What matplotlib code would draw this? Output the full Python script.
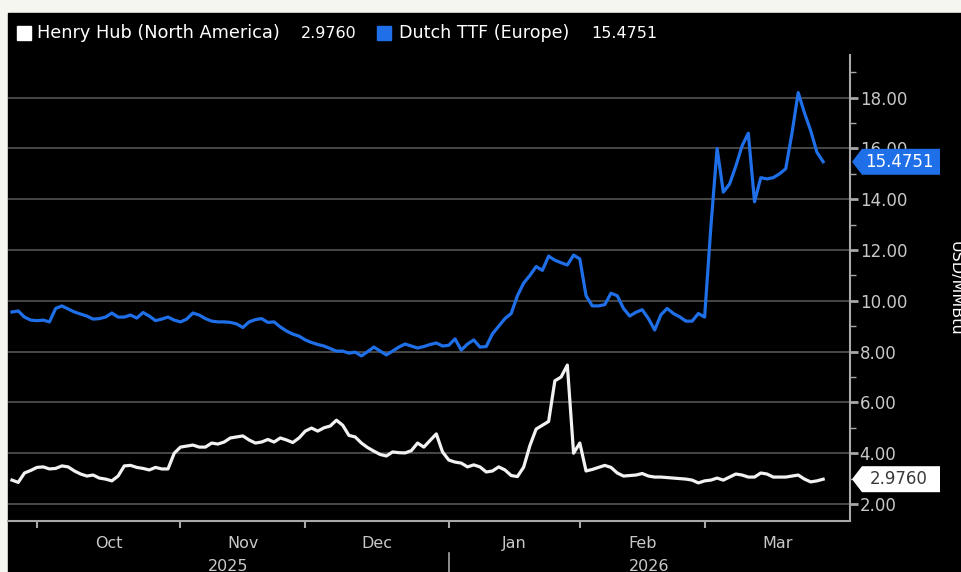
import numpy as np
import pandas as pd
import matplotlib
matplotlib.use("Agg")
import matplotlib.pyplot as plt
from matplotlib.patches import Rectangle, Polygon
import matplotlib.transforms as mtransforms

plt.rcParams['font.family'] = ['DejaVu Sans']

# ---------------- data ----------------
dates = pd.bdate_range('2025-09-25', '2026-03-27')
dates = dates[dates != pd.Timestamp('2026-01-01')]

ttf = [
    9.56, 9.60, 9.36, 9.24, 9.22, 9.24, 9.17, 9.70, 9.80, 9.68,
    9.56, 9.48, 9.40, 9.28, 9.30, 9.36, 9.52, 9.36, 9.36, 9.44,
    9.32, 9.54, 9.40, 9.22, 9.28, 9.36, 9.24, 9.17, 9.28, 9.52,
    9.44, 9.30, 9.20, 9.17, 9.17, 9.15, 9.09, 8.95, 9.17, 9.26,
    9.30, 9.15, 9.17, 8.97, 8.81, 8.69, 8.61, 8.46, 8.36, 8.28,
    8.22, 8.12, 8.02, 8.02, 7.94, 7.98, 7.83, 8.00, 8.18, 8.02,
    7.87, 8.02, 8.18, 8.30, 8.22, 8.14, 8.20, 8.28, 8.34, 8.22,
    8.25, 8.50, 8.06, 8.30, 8.46, 8.18, 8.20, 8.70, 9.00, 9.30,
    9.50, 10.20, 10.70, 11.00, 11.35, 11.20, 11.76, 11.60, 11.50, 11.41,
    11.80, 11.65, 10.20, 9.80, 9.80, 9.85, 10.30, 10.20, 9.70, 9.40,
    9.55, 9.65, 9.30, 8.85, 9.45, 9.70, 9.50, 9.37, 9.20, 9.20,
    9.50, 9.36, 12.90, 16.00, 14.28, 14.60, 15.30, 16.10, 16.60, 13.90,
    14.85, 14.80, 14.85, 15.00, 15.20, 16.60, 18.20, 17.40, 16.70, 15.85,
    15.4751,
]

henry_hub = [
    2.94, 2.85, 3.22, 3.32, 3.44, 3.46, 3.38, 3.40, 3.50, 3.46,
    3.30, 3.18, 3.10, 3.14, 3.02, 2.98, 2.91, 3.10, 3.50, 3.52,
    3.44, 3.40, 3.34, 3.44, 3.38, 3.38, 4.00, 4.24, 4.28, 4.32,
    4.24, 4.24, 4.40, 4.36, 4.44, 4.60, 4.64, 4.68, 4.52, 4.40,
    4.44, 4.54, 4.44, 4.60, 4.52, 4.42, 4.60, 4.87, 4.99, 4.87,
    5.00, 5.07, 5.30, 5.10, 4.70, 4.64, 4.40, 4.22, 4.08, 3.95,
    3.89, 4.05, 4.02, 4.01, 4.10, 4.40, 4.24, 4.50, 4.76, 4.05,
    3.73, 3.65, 3.61, 3.46, 3.54, 3.46, 3.26, 3.30, 3.46, 3.34,
    3.12, 3.08, 3.45, 4.30, 4.95, 5.10, 5.25, 6.85, 7.00, 7.47,
    4.00, 4.40, 3.30, 3.36, 3.44, 3.52, 3.44, 3.22, 3.10, 3.12,
    3.14, 3.20, 3.10, 3.06, 3.06, 3.04, 3.02, 3.00, 2.98, 2.94,
    2.83, 2.91, 2.94, 3.02, 2.94, 3.06, 3.18, 3.14, 3.06, 3.06,
    3.22, 3.18, 3.06, 3.06, 3.06, 3.10, 3.14, 2.98, 2.87, 2.91,
    2.976,
]

hh_label = "Henry Hub (North America)"
ttf_label = "Dutch TTF (Europe)"
hh_last = "2.9760"
ttf_last = "15.4751"
y_ticks = [2, 4, 6, 8, 10, 12, 14, 16, 18]
y_label = "USD/MMBtu"

# ---------------- layout ----------------
W, H = 962, 572
BG_OUT = '#f6f6f1'
BLUE = '#1f6fe8'
WHITE = '#f2f2f2'
GRID = '#4d4d4d'
TXT = '#c8c8c8'
SPINE = '#a8a8a8'

fig = plt.figure(figsize=(W / 100, H / 100), dpi=100, facecolor=BG_OUT)
fig.patches.append(Rectangle((8 / W, 0), 1 - 8 / W, (H - 13) / H,
                             transform=fig.transFigure, color='black', zorder=-10))

ax = fig.add_axes([8 / W, (H - 521) / H, (850 - 8) / W, (521 - 55) / H])
ax.set_facecolor('black')
ax.set_zorder(1)

x = np.arange(len(dates))
ax.plot(x, ttf, color=BLUE, lw=2.3, zorder=3, solid_joinstyle='round')
ax.plot(x, henry_hub, color=WHITE, lw=2.3, zorder=3, solid_joinstyle='round')

ax.set_xlim(-0.64, 134.3)
ax.set_ylim(1.33, 19.68)

# spines
for s in ['left', 'top']:
    ax.spines[s].set_visible(False)
for s in ['right', 'bottom']:
    ax.spines[s].set_color(SPINE)
    ax.spines[s].set_linewidth(1.5)

# y axis on right
ax.yaxis.tick_right()
ax.set_yticks(y_ticks)
ax.set_yticklabels([f"{v:.2f}" for v in y_ticks])
ax.set_yticks(np.arange(3, 20, 2), minor=True)
ax.tick_params(axis='y', which='major', length=6, width=2, color=SPINE,
               labelcolor=TXT, labelsize=12, pad=1)
ax.tick_params(axis='y', which='minor', length=4, width=1, color=SPINE)
ax.grid(axis='y', which='major', color=GRID, lw=1.3, zorder=1)
ax.set_axisbelow(True)

# x axis: month boundaries and centred labels
months = pd.Series(dates.to_period('M'))
starts = [int(i) for i in np.flatnonzero(months.ne(months.shift()).values)]
starts = starts[1:]  # first full month (Oct) onwards
names = [dates[i].strftime('%b') for i in starts]
ends = starts[1:] + [ax.get_xlim()[1]]
centers = [(a + b) / 2 for a, b in zip(starts, ends)]
ax.set_xticks(starts)
ax.set_xticklabels([])
ax.set_xticks(centers, minor=True)
ax.set_xticklabels(names, minor=True)
ax.tick_params(axis='x', which='major', length=5, width=1.5, color=SPINE)
ax.tick_params(axis='x', which='minor', length=0, pad=11, labelcolor=TXT,
               labelsize=11.5)

# year labels and separator
blend = mtransforms.blended_transform_factory(ax.transData, ax.transAxes)
jan_idx = starts[names.index('Jan')]
xl = ax.get_xlim()
ax.text((xl[0] + jan_idx) / 2, -0.097, dates[0].strftime('%Y'), transform=blend,
        ha='center', va='center', color=TXT, fontsize=11.5, clip_on=False)
ax.text((jan_idx + xl[1]) / 2, -0.097, dates[-1].strftime('%Y'), transform=blend,
        ha='center', va='center', color=TXT, fontsize=11.5, clip_on=False)
ax.plot([jan_idx, jan_idx], [-0.068, -0.115], transform=blend, color=SPINE,
        lw=1.2, clip_on=False)

# legend
def px(xp, yp):
    return xp / W, 1 - yp / H

fig.patches.append(Rectangle(px(17, 40), 14 / W, 14 / H, transform=fig.transFigure,
                             color='white', zorder=5))
fig.patches.append(Rectangle(px(377, 40), 14 / W, 14 / H, transform=fig.transFigure,
                             color=BLUE, zorder=5))
fig.text(*px(37, 33), hh_label, color='white', fontsize=12.8, va='center', ha='left')
fig.text(*px(301, 33), hh_last, color='white', fontsize=11.5, va='center', ha='left')
fig.text(*px(399, 33), ttf_label, color='white', fontsize=12.6, va='center', ha='left')
fig.text(*px(591, 33), ttf_last, color='white', fontsize=11.5, va='center', ha='left')

# axis unit label
fig.text(*px(955, 288), y_label, rotation=270, color='white', fontsize=11.5,
         ha='center', va='center')

# last value tags
def tag(value, text, face, tcolor):
    yc = ax.transData.transform((0, value))[1] / H  # figure fraction
    h = 13 / H
    verts = [(852 / W, yc), (862 / W, yc + h), (940 / W, yc + h),
             (940 / W, yc - h), (862 / W, yc - h)]
    fig.patches.append(Polygon(verts, closed=True, transform=fig.transFigure,
                               facecolor=face, edgecolor='none', zorder=6))
    fig.text(899 / W, yc, text, color=tcolor, fontsize=12, ha='center',
             va='center', zorder=7)

tag(ttf[-1], ttf_last, BLUE, 'white')
tag(henry_hub[-1], hh_last, 'white', '#3a3a3a')

fig.savefig('out.png', dpi=100, facecolor=fig.get_facecolor())
